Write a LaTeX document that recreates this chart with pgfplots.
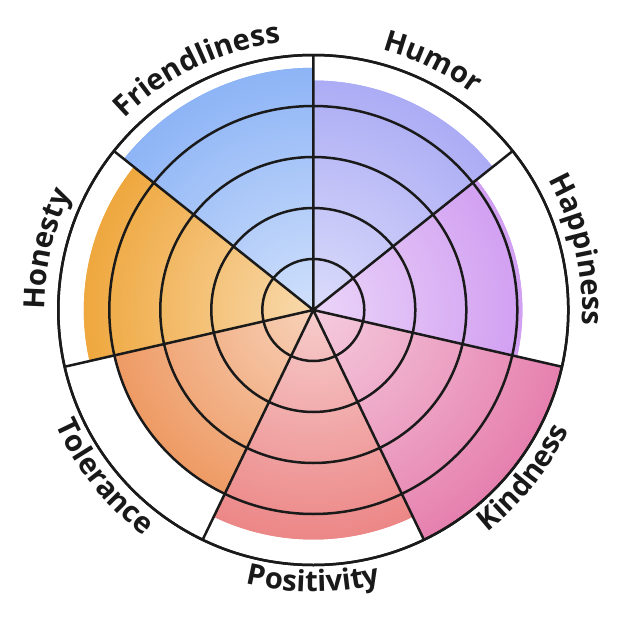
\documentclass[border=0pt]{standalone}
\usepackage{pgfplots}
\pgfplotsset{compat=1.18}
\usepgfplotslibrary{polar}
\usetikzlibrary{decorations.text}
\usepackage{fontspec}
\setmainfont{Open Sans}

\definecolor{cFri}{HTML}{8AB2F6}
\definecolor{cHum}{HTML}{A6A7F4}
\definecolor{cHap}{HTML}{CC94F0}
\definecolor{cKin}{HTML}{E680AE}
\definecolor{cPos}{HTML}{EB7F7F}
\definecolor{cTol}{HTML}{EC8D4F}
\definecolor{cHon}{HTML}{EEA232}
\definecolor{gridc}{HTML}{1A1A1A}

\def\mkshade#1{\pgfdeclareradialshading{sh#1}{\pgfpointorigin}{color(0bp)=(#1!40!white); color(127bp)=(#1); color(135bp)=(#1)}}
\mkshade{cFri}\mkshade{cHum}\mkshade{cHap}\mkshade{cKin}\mkshade{cPos}\mkshade{cTol}\mkshade{cHon}

\newcommand\labelsty{\fontsize{14.6pt}{16pt}\selectfont\bfseries}
\tikzset{rshade/.style={draw=none, fill=#1, path picture={%
  \begin{pgfscope}\pgftransformshift{\pgfpointanchor{O}{center}}\pgfuseshading{sh#1}\end{pgfscope}}}}

\begin{document}
\begin{tikzpicture}
\begin{polaraxis}[
  at={(0,0)}, anchor=center,
  width=255pt, height=255pt, scale only axis,
  ymin=0, ymax=100,
  xtick={90,38.5714,347.1429,295.7143,244.2857,192.8571,141.4286},
  ytick={20,40,60,80,100},
  xticklabels={}, yticklabels={},
  major tick length=0pt,
  grid=major,
  major grid style={gridc, line width=1.25pt},
  axis line style={gridc, line width=1.25pt},
  y axis line style={draw=none},
  axis on top,
]
\coordinate (O) at (axis cs:0,0);
% Friendliness
\addplot[rshade=cFri, domain=90:141.4286, samples=40] {95} -- (axis cs:0,0) -- cycle;
% Humor
\addplot[rshade=cHum, domain=38.5714:90, samples=40] {90} -- (axis cs:0,0) -- cycle;
% Happiness
\addplot[rshade=cHap, domain=-12.8571:38.5714, samples=40] {82} -- (axis cs:0,0) -- cycle;
% Kindness
\addplot[rshade=cKin, domain=-64.2857:-12.8571, samples=40] {100} -- (axis cs:0,0) -- cycle;
% Positivity
\addplot[rshade=cPos, domain=-115.7143:-64.2857, samples=40] {90} -- (axis cs:0,0) -- cycle;
% Tolerance
\addplot[rshade=cTol, domain=-167.1429:-115.7143, samples=40] {80} -- (axis cs:0,0) -- cycle;
% Honesty
\addplot[rshade=cHon, domain=141.4286:192.8571, samples=40] {90} -- (axis cs:0,0) -- cycle;
\end{polaraxis}

% labels, top half (clockwise, letters outward)
\def\rt{134.5pt}
\def\rb{141pt}
\foreach \ang/\txt in {167.1429/Honesty,115.7143/Friendliness,64.2857/Humor,12.8571/Happiness}{
  \path[decorate, decoration={text along path, text align=center, text color=black!90,
      text={|\labelsty|\txt}}]
    (O) ++(\ang+40:\rt) arc[start angle=\ang+40, end angle=\ang-40, radius=\rt];
}
% bottom half (counterclockwise, letters inward)
\foreach \ang/\txt in {-38.5714/Kindness,-90/Positivity,-141.4286/Tolerance}{
  \path[decorate, decoration={text along path, text align=center, text color=black!90,
      text={|\labelsty|\txt}}]
    (O) ++(\ang-40:\rb) arc[start angle=\ang-40, end angle=\ang+40, radius=\rb];
}
\pgfresetboundingbox
\useasboundingbox (O) ++(-156.65pt,-156pt) rectangle ++(311pt,311pt);
\end{tikzpicture}
\end{document}
